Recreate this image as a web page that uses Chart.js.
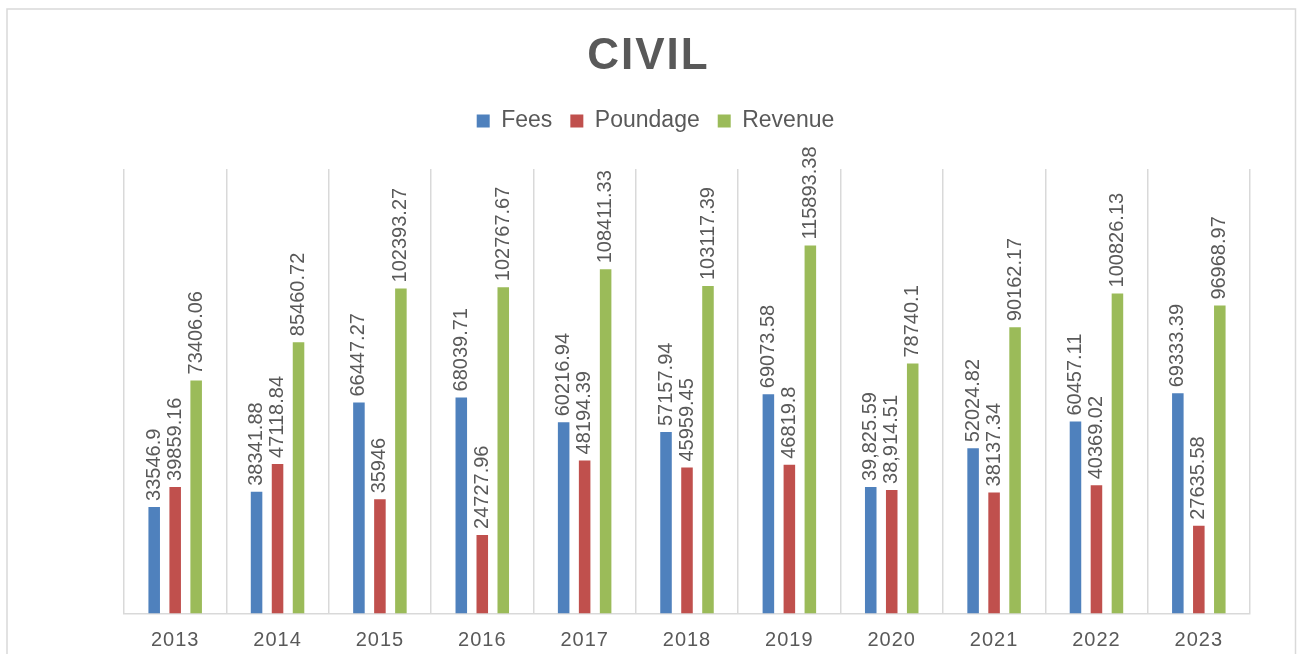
<!DOCTYPE html>
<html>
<head>
<meta charset="utf-8">
<title>CIVIL</title>
<script src="https://cdn.jsdelivr.net/npm/chart.js@4.4.1/dist/chart.umd.min.js"></script>
<style>
	html, body { margin: 0; padding: 0; background: #fff; }
	#wrap { position: relative; width: 1297px; height: 654px; }
</style>
</head>
<body>
<div id="wrap"><canvas id="chartCivil"></canvas></div>
<script>
'use strict'

// values
const years = ['2013', '2014', '2015', '2016', '2017', '2018', '2019', '2020', '2021', '2022', '2023'];
const fees = [33546.9, 38341.88, 66447.27, 68039.71, 60216.94, 57157.94, 69073.58, 39825.59, 52024.82, 60457.11, 69333.39];
const poundage = [39859.16, 47118.84, 35946, 24727.96, 48194.39, 45959.45, 46819.8, 38914.51, 38137.34, 40369.02, 27635.58];
const revenue = [73406.06, 85460.72, 102393.27, 102767.67, 108411.33, 103117.39, 115893.38, 78740.1, 90162.17, 100826.13, 96968.97];

// label text as printed (2020 uses thousands separators)
const feesText = ['33546.9', '38341.88', '66447.27', '68039.71', '60216.94', '57157.94', '69073.58', '39,825.59', '52024.82', '60457.11', '69333.39'];
const poundageText = ['39859.16', '47118.84', '35946', '24727.96', '48194.39', '45959.45', '46819.8', '38,914.51', '38137.34', '40369.02', '27635.58'];
const revenueText = ['73406.06', '85460.72', '102393.27', '102767.67', '108411.33', '103117.39', '115893.38', '78740.1', '90162.17', '100826.13', '96968.97'];

const colors = {
	blue: '#4F81BD',
	red: '#C0504D',
	green: '#9BBB59',
	text: '#595959',
	grid: '#D9D9D9',
};
const FONT = '"Liberation Sans", Arial, sans-serif';

// frame round the whole chart
const frame = {
	id: 'frame',
	beforeDraw(chart){
		const ctx = chart.ctx;
		ctx.save();
		ctx.strokeStyle = colors.grid;
		ctx.lineWidth = 1.5;
		ctx.strokeRect(7, 9, 1288.5, 700);
		ctx.restore();

		// letter spacing for title and year labels
		const t = chart.titleBlock;
		if(t && !t._spaced){
			const orig = t.draw;
			t.draw = function(a){
				this.ctx.save();
				this.ctx.letterSpacing = '2px';
				orig.call(this, a);
				this.ctx.restore();
			};
			t._spaced = true;
		}
		const x = chart.scales.x;
		if(x && !x._spaced){
			const origLabels = x.drawLabels;
			x.drawLabels = function(a){
				this.ctx.save();
				this.ctx.letterSpacing = '1px';
				origLabels.call(this, a);
				this.ctx.restore();
			};
			x._spaced = true;
		}
	},
};

// extra room under the legend, legend nudged right a little
const legendGap = {
	id: 'legendGap',
	beforeInit(chart){
		const legend = chart.legend;
		const fit = legend.fit;
		legend.fit = function(){
			fit.bind(legend)();
			this.height += 26.5;
		};
		const draw = legend.draw;
		legend.draw = function(){
			this.ctx.save();
			this.ctx.translate(7, 0);
			draw.apply(legend, arguments);
			this.ctx.restore();
		};
	},
};

// rotated value labels above bars
const valueLabels = {
	id: 'valueLabels',
	afterDatasetsDraw(chart){
		const ctx = chart.ctx;
		chart.data.datasets.forEach((ds, i) => {
			const meta = chart.getDatasetMeta(i);
			meta.data.forEach((bar, j) => {
				ctx.save();
				ctx.translate(bar.x, bar.y - 6);
				ctx.rotate(-Math.PI / 2);
				ctx.font = '20px ' + FONT;
				ctx.fillStyle = colors.text;
				ctx.textAlign = 'left';
				ctx.textBaseline = 'middle';
				ctx.fillText(ds.valueText[j], 0, 0);
				ctx.restore();
			});
		});
	},
};

const dataCharts = {
	labels: years,
	datasets: [
		{ label: 'Fees', data: fees, valueText: feesText, backgroundColor: colors.blue },
		{ label: 'Poundage', data: poundage, valueText: poundageText, backgroundColor: colors.red },
		{ label: 'Revenue', data: revenue, valueText: revenueText, backgroundColor: colors.green },
	],
};

let chartCivil = new Chart(document.getElementById('chartCivil'), {
	type: 'bar',
	data: dataCharts,
	plugins: [frame, legendGap, valueLabels],
	options: {
		responsive: true,
		maintainAspectRatio: false,
		animation: false,
		categoryPercentage: 0.615,
		barPercentage: 0.55,
		layout: {
			padding: { top: 10, left: 47, right: 47, bottom: -13.5 },
		},
		plugins: {
			title: {
				display: true,
				text: 'CIVIL',
				color: colors.text,
				font: { family: FONT, size: 44, weight: 'bold' },
				padding: { top: 20.6, bottom: 8.1 },
			},
			legend: {
				display: true,
				position: 'top',
				labels: {
					color: colors.text,
					font: { family: FONT, size: 23 },
					boxWidth: 13,
					boxHeight: 13,
					padding: 18,
				},
			},
			tooltip: { enabled: false },
		},
		scales: {
			x: {
				grid: {
					display: true,
					offset: true,
					drawTicks: false,
					color: colors.grid,
					lineWidth: 1.5,
				},
				border: { color: colors.grid, width: 1.5 },
				ticks: {
					color: colors.text,
					font: { family: FONT, size: 20 },
					padding: 15,
				},
			},
			y: {
				min: 0,
				max: 140000,
				grid: { display: false },
				border: { display: false },
				ticks: { display: false },
				afterFit: (scale) => { scale.width = 77; },
			},
		},
	},
});
</script>
</body>
</html>
